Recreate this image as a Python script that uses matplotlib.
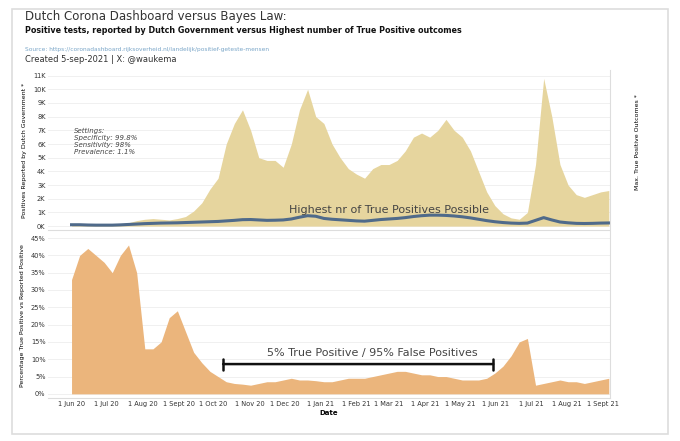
import matplotlib
matplotlib.use("Agg")
import matplotlib.pyplot as plt
import pandas as pd
from matplotlib.ticker import FuncFormatter
from matplotlib.patches import Rectangle

cases = [150,150,150,100,100,100,150,250,400,500,550,500,450,550,700,1100,1700,2700,
         3500,6000,7500,8500,7000,5000,4800,4800,4300,6000,8500,10000,8000,7500,6000,5000,4200,
         3800,3500,4200,4500,4500,4800,5500,6500,6800,6500,7000,7800,7000,6500,5500,4000,2500,1500,
         900,600,500,1000,4500,10800,8000,4500,3000,2300,2100,2300,2500,2600]
true_pos = [100,100,80,70,70,70,90,120,150,180,200,220,230,240,260,280,300,320,
            340,380,420,470,480,450,420,430,450,520,650,760,720,560,500,460,420,
            380,360,420,480,520,560,620,700,760,800,800,780,740,680,600,500,400,320,
            260,220,200,220,420,620,450,300,240,200,190,200,220,230]
pct = [33,40,42,40,38,35,40,43,35,13,13,15,22,24,18,12,9,6.5,5,3.5,3,2.8,2.5,3,3.5,3.5,4,
       4.5,4,4,3.8,3.5,3.5,4,4.5,4.5,4.5,5,5.5,6,6.5,6.5,6,5.5,5.5,5,5,4.5,4,4,4,4.5,6,8,11,
       15,16,2.5,3,3.5,4,3.5,3.5,3,3.5,4,4.5]
start = "2020-06-01"
tick_dates = pd.date_range("2020-06-01", "2021-09-01", freq="MS")
tick_labels = [d.strftime("1 %b %y").replace("Sep", "Sept") for d in tick_dates]

n = min(len(cases), len(true_pos), len(pct))
dates = pd.date_range(start, periods=n, freq="7D")
cases, true_pos, pct = cases[:n], true_pos[:n], pct[:n]

fig = plt.figure(figsize=(6.8, 4.41), dpi=100)
fig.patch.set_facecolor("white")
fig.patches.append(Rectangle((0.018, 0.015), 0.965, 0.965, transform=fig.transFigure,
                             fill=False, ec="#dddddd", lw=1.2))
xl = (pd.Timestamp("2020-05-12"), pd.Timestamp("2021-09-07"))

fig.text(0.037, 0.955, "Dutch Corona Dashboard versus Bayes Law:", fontsize=8.5, color="#333")
fig.text(0.037, 0.925, "Positive tests, reported by Dutch Government versus Highest number of True Positive outcomes",
         fontsize=5.8, fontweight="bold", color="#111")
fig.text(0.037, 0.885, "Source: https://coronadashboard.rijksoverheid.nl/landelijk/positief-geteste-mensen",
         fontsize=4.2, color="#7aa6c8")
fig.text(0.037, 0.86, "Created 5-sep-2021 | X: @waukema", fontsize=6, color="#333")

ax1 = fig.add_axes([0.071, 0.478, 0.826, 0.363])
ax1.fill_between(dates, cases, color="#e6d59e", lw=0)
ax1.plot(dates, true_pos, color="#4f6a8a", lw=2.2)
ax1.set_ylim(-300, 11400)
ax1.set_yticks(range(0, 11001, 1000))
ax1.yaxis.set_major_formatter(FuncFormatter(lambda v, p: f"{int(v/1000)}K"))
ax1.set_ylabel("Positives Reported by Dutch Government *", fontsize=4.5)
ax1.text(pd.Timestamp("2020-06-03"), 7200, "Settings:\nSpecificity: 99.8%\nSensitivity: 98%\nPrevalence: 1.1%",
         fontsize=5, style="italic", color="#444", va="top")
ax1.text(pd.Timestamp("2021-03-01"), 950, "Highest nr of True Positives Possible", fontsize=8,
         color="#444", ha="center")
ax1.set_xticks([])

ax2 = fig.add_axes([0.071, 0.0975, 0.826, 0.376])
ax2.fill_between(dates, pct, color="#ebb57c", lw=0)
ax2.set_ylim(-1.2, 46.7)
ax2.set_yticks(range(0, 46, 5))
ax2.yaxis.set_major_formatter(FuncFormatter(lambda v, p: f"{int(v)}%"))
ax2.set_ylabel("Percentage True Positive vs Reported Positive", fontsize=4.5)
ax2.set_xticks(tick_dates)
ax2.set_xticklabels(tick_labels, fontsize=4.8, color="#333")
ax2.set_xlabel("Date", fontsize=5, fontweight="bold", labelpad=2)
ax2.annotate("", xy=(pd.Timestamp("2020-10-07"), 8.6), xytext=(pd.Timestamp("2021-06-01"), 8.6),
             arrowprops=dict(arrowstyle="|-|", lw=1.8, color="#111", mutation_scale=4))
ax2.text(pd.Timestamp("2021-02-15"), 11, "5% True Positive / 95% False Positives", fontsize=8,
         color="#444", ha="center")

for ax in (ax1, ax2):
    ax.set_xlim(*xl)
    ax.grid(axis="y", color="#f0f0f0", lw=0.7)
    ax.set_axisbelow(True)
    for s in ax.spines.values():
        s.set_visible(False)
    ax.tick_params(length=0, labelsize=4.8, labelcolor="#333", pad=2)
ax1.spines["bottom"].set_visible(True); ax1.spines["bottom"].set_color("#dddddd")
ax2.spines["bottom"].set_visible(True); ax2.spines["bottom"].set_color("#dddddd")

axr = fig.add_axes([0.897, 0.0975, 0.08, 0.743])
axr.set_xticks([]); axr.set_yticks([])
for k, s in axr.spines.items():
    s.set_visible(k == "left"); s.set_color("#dddddd")
axr.text(0.5, 0.78, "Max. True Positive Outcomes *", rotation=90, fontsize=4.5,
         ha="center", va="center", transform=axr.transAxes)

fig.savefig("out.png", dpi=100)
